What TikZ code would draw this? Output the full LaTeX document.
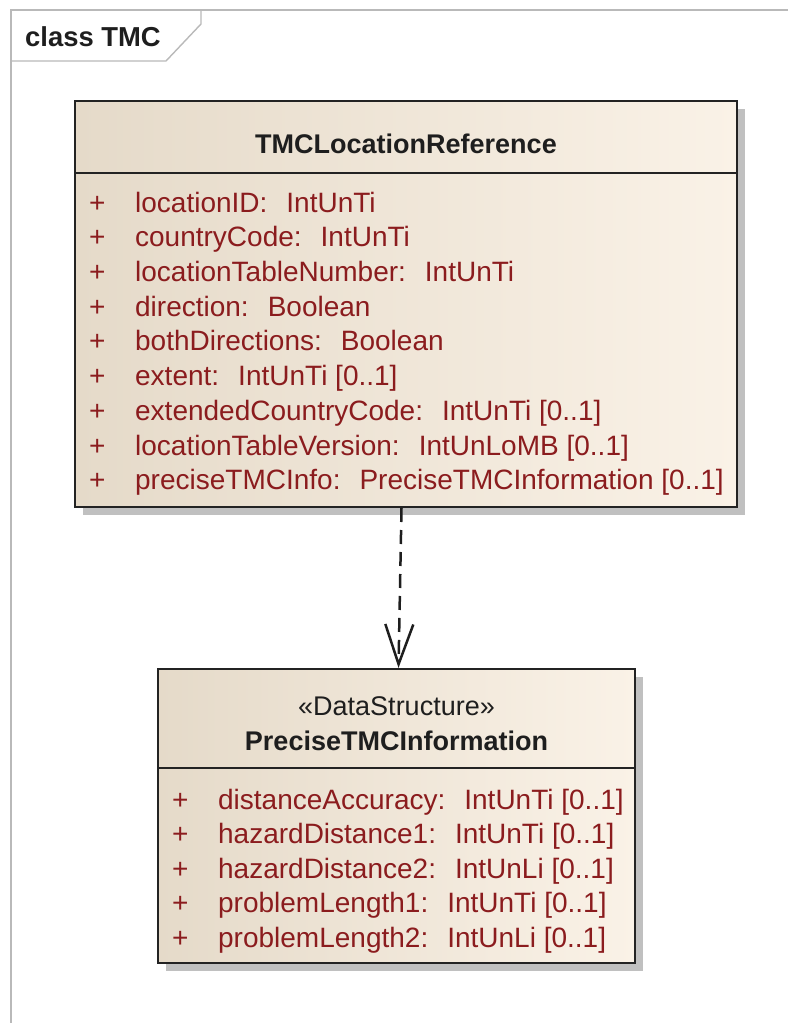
\documentclass[tikz,border=0pt]{standalone}
\usepackage{fontspec}
\setmainfont{Liberation Sans}
\usetikzlibrary{arrows.meta,shadows}
\definecolor{attr}{RGB}{139,28,30}
\definecolor{boxl}{RGB}{229,218,201}
\definecolor{boxr}{RGB}{250,242,231}
\definecolor{framec}{RGB}{185,185,185}
\definecolor{shadowc}{RGB}{192,192,192}
\definecolor{borderc}{RGB}{35,35,35}
\definecolor{txt}{RGB}{30,30,30}
\tikzset{
  classbox/.style={draw=borderc, line width=2pt, left color=boxl, right color=boxr, inner sep=0pt,
    drop shadow={shadow xshift=8pt, shadow yshift=-8pt, fill=shadowc, opacity=1}},
  sepline/.style={draw=borderc, line width=2pt},
  framel/.style={draw=framec, line width=1.4pt},
  attrtxt/.style={anchor=base west, inner sep=0pt, text=attr, font=\fontsize{28}{32}\selectfont},
  headtxt/.style={anchor=base, inner sep=0pt, text=txt, font=\fontsize{27}{32}\selectfont\bfseries},
  stereotxt/.style={anchor=base, inner sep=0pt, text=txt, font=\fontsize{27}{32}\selectfont},
  dep/.style={draw=txt, line width=2.5pt, dash pattern=on 14pt off 8pt,
    -{Straight Barb[length=40pt, width=28pt, line width=2.5pt]}}
}
\newcommand{\plusrow}[2]{\makebox[46pt][l]{+}#1:\hspace{19pt}#2}
\begin{document}
\begin{tikzpicture}[x=1pt,y=-1pt]
\useasboundingbox (0,0) rectangle (788,1023);
% frame
\draw[framel] (11,1023) -- (11,10) -- (788,10);
\draw[framel] (11,61) -- (166,61) -- (201,24) -- (201,10);
\node[anchor=base west, inner sep=0pt, text=txt, font=\fontsize{27.4}{30}\selectfont\bfseries] (title) at (25,46) {class TMC};
% top class
\node[classbox, minimum width=662pt, minimum height=406pt] (top) at (406,304) {};
\draw[sepline] (75,172.5) -- (737,172.5);
\node[headtxt] (topname) at (406,153) {TMCLocationReference};
\node[attrtxt] (t1) at (89,212.0) {\plusrow{locationID}{IntUnTi}};
\node[attrtxt] (t2) at (89,246.7) {\plusrow{countryCode}{IntUnTi}};
\node[attrtxt] (t3) at (89,281.4) {\plusrow{locationTableNumber}{IntUnTi}};
\node[attrtxt] (t4) at (89,316.2) {\plusrow{direction}{Boolean}};
\node[attrtxt] (t5) at (89,350.9) {\plusrow{bothDirections}{Boolean}};
\node[attrtxt] (t6) at (89,385.6) {\plusrow{extent}{IntUnTi [0..1]}};
\node[attrtxt] (t7) at (89,420.3) {\plusrow{extendedCountryCode}{IntUnTi [0..1]}};
\node[attrtxt] (t8) at (89,455.0) {\plusrow{locationTableVersion}{IntUnLoMB [0..1]}};
\node[attrtxt] (t9) at (89,489.8) {\plusrow{preciseTMCInfo}{PreciseTMCInformation [0..1]}};
% bottom class
\node[classbox, minimum width=477pt, minimum height=294pt] (bot) at (396.5,816) {};
\draw[sepline] (158,768) -- (635,768);
\node[stereotxt] (stereo) at (396.5,715) {«DataStructure»};
\node[headtxt] (botname) at (396.5,750) {PreciseTMCInformation};
\node[attrtxt] (b1) at (172,809.0) {\plusrow{distanceAccuracy}{IntUnTi [0..1]}};
\node[attrtxt] (b2) at (172,843.5) {\plusrow{hazardDistance1}{IntUnTi [0..1]}};
\node[attrtxt] (b3) at (172,878.0) {\plusrow{hazardDistance2}{IntUnLi [0..1]}};
\node[attrtxt] (b4) at (172,912.5) {\plusrow{problemLength1}{IntUnTi [0..1]}};
\node[attrtxt] (b5) at (172,947.0) {\plusrow{problemLength2}{IntUnLi [0..1]}};
% dependency
\draw[dep] ([xshift=-4.5pt]top.south) -- ([xshift=2pt]bot.north);
\end{tikzpicture}
\end{document}
